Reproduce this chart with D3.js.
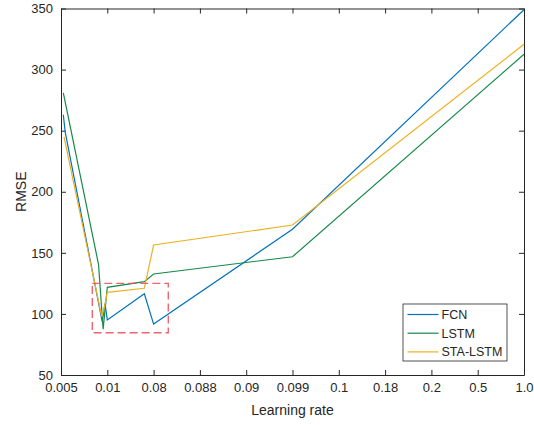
<!DOCTYPE html>
<html>
<head>
<meta charset="utf-8">
<script src="https://cdn.jsdelivr.net/npm/d3@7"></script>
<style>
  body { margin: 0; background: #fff; }
  text { font-family: "Liberation Sans", Arial, Helvetica, sans-serif; fill: #262626; }
</style>
</head>
<body>
<div id="graphicContainer"></div>
<script>
// tick labels along the x axis (evenly spaced categories)
var xLabels = ["0.005", "0.01", "0.08", "0.088", "0.09", "0.099", "0.1", "0.18", "0.2", "0.5", "1.0"]
var yTicks = [50, 100, 150, 200, 250, 300, 350]

// x positions are in category-index units
var fcnX = [0.05, 0.09, 0.89, 0.95, 1.0, 1.8, 2.0, 5.0, 10]
var fcnY = [263, 249, 93.6, 108.5, 95, 116.5, 91.7, 169.3, 349]

var lstmX = [0.05, 0.81, 0.91, 1.0, 1.8, 2.0, 5.0, 10]
var lstmY = [281, 140.6, 87.4, 121.8, 126.4, 132.7, 146.8, 312.5]

var staX = [0.065, 0.88, 0.94, 1.0, 1.8, 2.0, 5.0, 10]
var staY = [245, 97.7, 106, 117.7, 121, 156.4, 172.8, 320.7]

var seriesNames = ["FCN", "LSTM", "STA-LSTM"]
var seriesColors = ["#0072BD", "#16894A", "#EDB120"]

// zoom box [x0, x1] in index units, [y0, y1] in RMSE
var boxX = [0.676, 2.317]
var boxY = [84.6, 125]

var width = 534, height = 425
var margin = {top: 8.5, right: 10, bottom: 50, left: 61}
var w = width - margin.left - margin.right
var h = height - margin.top - margin.bottom

var svg = d3.select("#graphicContainer").append("svg")
	.attr("width", width)
	.attr("height", height)

var features = svg.append("g").attr("transform", "translate(" + margin.left + "," + margin.top + ")")

var x = d3.scaleLinear().domain([0, xLabels.length - 1]).range([0, w])
var y = d3.scaleLinear().domain([50, 350]).range([h, 0])

var tickIdx = xLabels.map((d, i) => i)

// MATLAB-style inward ticks on all four sides
var xAxis = d3.axisBottom(x).tickValues(tickIdx).tickFormat((d) => xLabels[d]).tickSizeInner(-5).tickSizeOuter(0).tickPadding(8)
var yAxis = d3.axisLeft(y).tickValues(yTicks).tickSizeInner(-5).tickSizeOuter(0).tickPadding(8)

var gx = features.append("g").attr("transform", "translate(0," + h + ")").call(xAxis)
var gy = features.append("g").call(yAxis)
features.append("g").call(d3.axisTop(x).tickValues(tickIdx).tickFormat("").tickSizeInner(-5).tickSizeOuter(0))
features.append("g").attr("transform", "translate(" + w + ",0)").call(d3.axisRight(y).tickValues(yTicks).tickFormat("").tickSizeInner(-5).tickSizeOuter(0))

features.selectAll(".domain").attr("stroke", "#262626")
features.selectAll(".tick line").attr("stroke", "#262626")
gx.selectAll("text").attr("font-size", 13).style("fill", "#262626")
gy.selectAll("text").attr("font-size", 13).style("fill", "#262626")

svg.append("text")
	.attr("x", margin.left + w / 2)
	.attr("y", 415)
	.attr("text-anchor", "middle")
	.attr("font-size", 14)
	.text("Learning rate")

svg.append("text")
	.attr("transform", "translate(26," + (margin.top + h / 2) + ")rotate(-90)")
	.attr("text-anchor", "middle")
	.attr("font-size", 14)
	.text("RMSE")

var line = d3.line().x((d) => x(d[0])).y((d) => y(d[1]))

var allSeries = [
	d3.zip(fcnX, fcnY),
	d3.zip(lstmX, lstmY),
	d3.zip(staX, staY)
]

allSeries.forEach(function (s, i) {
	features.append("path")
		.datum(s)
		.attr("d", line)
		.attr("fill", "none")
		.attr("stroke", seriesColors[i])
		.attr("stroke-width", 1.2)
})

// red dashed zoom rectangle
features.append("rect")
	.attr("x", x(boxX[0]))
	.attr("y", y(boxY[1]))
	.attr("width", x(boxX[1]) - x(boxX[0]))
	.attr("height", y(boxY[0]) - y(boxY[1]))
	.attr("fill", "none")
	.attr("stroke", "#ec4a55")
	.attr("stroke-opacity", 0.85)
	.attr("stroke-width", 1.4)
	.attr("stroke-dasharray", "8,4")

// legend
var legend = svg.append("g").attr("transform", "translate(403,304)")
legend.append("rect")
	.attr("width", 104)
	.attr("height", 57)
	.attr("fill", "#fff")
	.attr("stroke", "#262626")
	.attr("stroke-width", 0.8)

seriesNames.forEach(function (n, i) {
	var yy = 10.5 + i * 18.7
	legend.append("line")
		.attr("x1", 4.5).attr("x2", 35.5)
		.attr("y1", yy).attr("y2", yy)
		.attr("stroke", seriesColors[i])
		.attr("stroke-width", 1.2)
	legend.append("text")
		.attr("x", 38.5)
		.attr("y", yy + 4.5)
		.attr("font-size", 12.5)
		.text(n)
})
</script>
</body>
</html>
